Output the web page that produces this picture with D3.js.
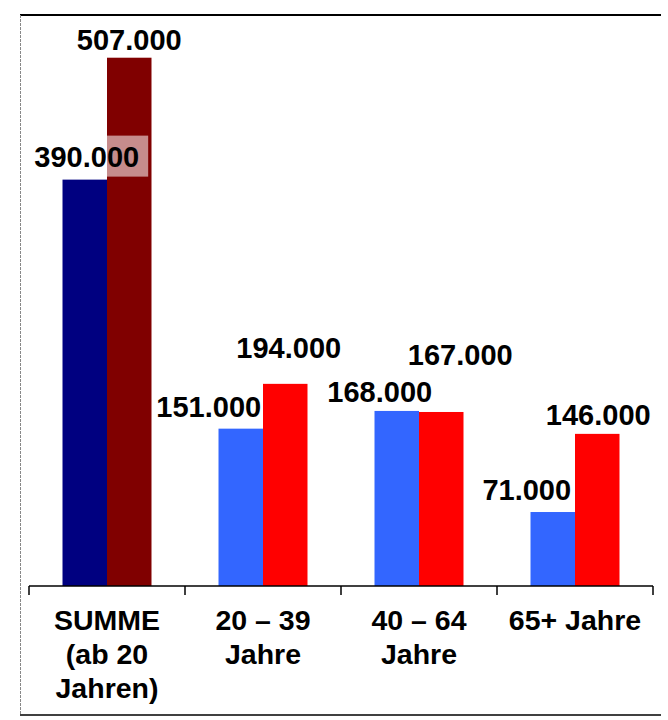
<!DOCTYPE html>
<html>
<head>
<meta charset="utf-8">
<script src="https://cdn.jsdelivr.net/npm/d3@7"></script>
<style>
  html, body { margin: 0; padding: 0; background: #fff; }
  svg { display: block; }
  text { font-family: "Liberation Sans", Arial, sans-serif; font-weight: bold; fill: #000; }
</style>
</head>
<body>
<svg id="chart" width="668" height="720"></svg>
<script>
// ---- data ----
const categories = ["SUMME (ab 20 Jahren)", "20 – 39 Jahre", "40 – 64 Jahre", "65+ Jahre"];
const categoryLines = [["SUMME", "(ab 20", "Jahren)"], ["20 – 39", "Jahre"], ["40 – 64", "Jahre"], ["65+ Jahre"]];
const seriesKeys = ["a", "b"];
const valuesA = [390000, 151000, 168000, 71000];
const valuesB = [507000, 194000, 167000, 146000];
const valueLabelsA = ["390.000", "151.000", "168.000", "71.000"];
const valueLabelsB = ["507.000", "194.000", "167.000", "146.000"];

// ---- styling / layout (not data) ----
const colorsA = ["#000080", "#3366FF", "#3366FF", "#3366FF"];
const colorsB = ["#800000", "#FF0000", "#FF0000", "#FF0000"];
// label offsets: [dx from bar centre, dy of baseline from bar top]
const labelOffA = [[2, -13], [-32, -12], [-17, -9], [-26, -12]];
const labelOffB = [[0, -8], [3.5, -26], [19, -47], [1, -9]];
const labelBoxA = [true, false, false, false];
const labelBoxB = [false, false, false, false];

const svg = d3.select("#chart");

// frame
svg.append("line").attr("x1", 20).attr("x2", 661).attr("y1", 15).attr("y2", 15)
  .attr("stroke", "#000").attr("stroke-width", 2);
svg.append("line").attr("x1", 20).attr("x2", 661).attr("y1", 715).attr("y2", 715)
  .attr("stroke", "#000").attr("stroke-width", 1.5);
svg.append("line").attr("x1", 20.5).attr("x2", 20.5).attr("y1", 15).attr("y2", 715)
  .attr("stroke", "#888").attr("stroke-width", 1).attr("stroke-dasharray", "3,1");

const x0 = d3.scaleBand().domain(categories).range([29, 653]).paddingInner(0).paddingOuter(0);
const x1 = d3.scaleBand().domain(seriesKeys).range([0, x0.bandwidth()]).paddingInner(0).paddingOuter(0.753);
const y = d3.scaleLinear().domain([0, 500000]).range([586, 65]);

const rows = categories.map((c, i) => ({
  cat: c, i,
  bars: [
    { key: "a", v: valuesA[i], label: valueLabelsA[i], color: colorsA[i], off: labelOffA[i], box: labelBoxA[i] },
    { key: "b", v: valuesB[i], label: valueLabelsB[i], color: colorsB[i], off: labelOffB[i], box: labelBoxB[i] }
  ]
}));

const g = svg.append("g");
const groups = g.selectAll("g.grp").data(rows).join("g")
  .attr("class", "grp")
  .attr("transform", d => `translate(${x0(d.cat)},0)`);

groups.selectAll("rect").data(d => d.bars).join("rect")
  .attr("x", b => x1(b.key))
  .attr("width", x1.bandwidth())
  .attr("y", b => y(b.v))
  .attr("height", b => y(0) - y(b.v))
  .attr("fill", b => b.color);

// axis
const axis = d3.axisBottom(x0).tickSize(0).tickFormat("");
const ax = svg.append("g").attr("transform", "translate(0,586)").call(axis);
ax.select(".domain").attr("stroke", "#000").attr("stroke-width", 1.5).attr("d", "M29,0H653");
const edges = categories.map(c => x0(c)).concat([x0(categories[categories.length - 1]) + x0.bandwidth()]);
ax.selectAll("line.edge").data(edges).join("line").attr("class", "edge")
  .attr("x1", d => d).attr("x2", d => d).attr("y1", 0).attr("y2", 9)
  .attr("stroke", "#000").attr("stroke-width", 1.5);

// category labels
const catG = svg.append("g");
rows.forEach((r, i) => {
  const cx = x0(r.cat) + x0.bandwidth() / 2;
  const t = catG.append("text").attr("text-anchor", "middle").attr("font-size", 28.5);
  categoryLines[i].forEach((line, k) => {
    t.append("tspan").attr("x", cx).attr("y", 630 + k * 34).text(line);
  });
});

// value labels
const labG = svg.append("g");
rows.forEach(r => {
  r.bars.forEach(b => {
    const bx = x0(r.cat) + x1(b.key) + x1.bandwidth() / 2 + b.off[0];
    const by = y(b.v) + b.off[1];
    const grp = labG.append("g");
    const rect = b.box ? grp.append("rect").attr("fill", "#fff").attr("fill-opacity", 0.55) : null;
    const t = grp.append("text").attr("x", bx).attr("y", by)
      .attr("text-anchor", "middle").attr("font-size", 29).text(b.label);
    if (rect) {
      const bb = t.node().getBBox();
      rect.attr("x", bb.x - 8).attr("width", bb.width + 17)
        .attr("y", by - 31).attr("height", 41);
    }
  });
});
</script>
</body>
</html>
